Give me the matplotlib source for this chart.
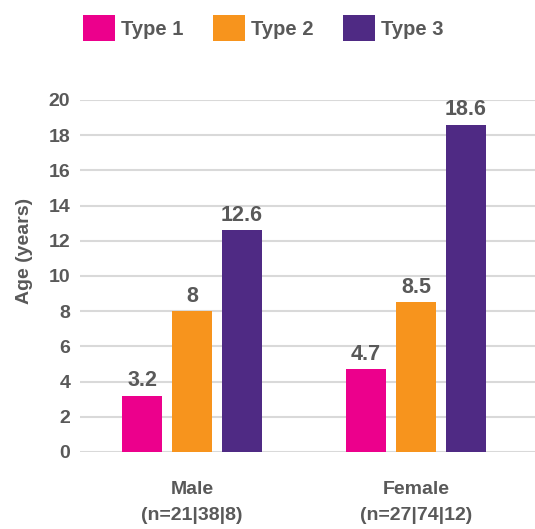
import matplotlib
matplotlib.use("Agg")
import matplotlib.pyplot as plt
import numpy as np
from matplotlib.patches import Patch

categories = ["Male\n(n=21|38|8)", "Female\n(n=27|74|12)"]
series_names = ["Type 1", "Type 2", "Type 3"]
type1 = [3.2, 4.7]
type2 = [8, 8.5]
type3 = [12.6, 18.6]
yticks = [0, 2, 4, 6, 8, 10, 12, 14, 16, 18, 20]

colors = ["#EC008C", "#F7941D", "#4F2A84"]
text_color = "#595959"
fam = ["Liberation Sans Narrow", "Liberation Sans", "DejaVu Sans"]
plt.rcParams['font.family'] = fam

fig = plt.figure(figsize=(5.35, 5.29), dpi=100)
ax = fig.add_axes([80/535, 1 - 452/529, 455/535, 352/529])

x = np.arange(len(categories))
offset = 0.223
width = 0.175
all_series = [type1, type2, type3]
for i, (vals, c) in enumerate(zip(all_series, colors)):
    bars = ax.bar(x + (i - 1) * offset, vals, width=width, color=c, zorder=3)
    for b, v in zip(bars, vals):
        lbl = f"{v:g}"
        ax.text(b.get_x() + b.get_width() / 2, v + 0.25, lbl, ha="center", va="bottom",
                fontsize=15.5, fontweight="bold", color=text_color)

ax.set_xlim(-0.5, 455 / 224 - 0.5)
ax.set_ylim(0, 20)
ax.set_yticks(yticks)
ax.set_yticklabels([str(t) for t in yticks], fontsize=14, fontweight="bold", color=text_color)
ax.set_xticks(x)
ax.set_xticklabels(categories, fontsize=14, fontweight="bold", color=text_color, linespacing=1.65)
ax.tick_params(axis="both", length=0)
ax.tick_params(axis="y", pad=7)
ax.tick_params(axis="x", pad=21)
ax.grid(axis="y", color="#D9D9D9", linewidth=1.5, zorder=0)
for s in ax.spines.values():
    s.set_visible(False)
ax.set_ylabel("Age (years)", fontsize=14, fontweight="bold", color=text_color)
ax.yaxis.set_label_coords(-0.103, 0.571)

handles = [Patch(facecolor=c, label=n) for c, n in zip(colors, series_names)]
leg = fig.legend(handles=handles, loc="center left", bbox_to_anchor=(65/535, 1 - 28/529), ncol=3,
                 frameon=False, handlelength=1.6, handleheight=1.6, handletextpad=0.3,
                 columnspacing=1.45, prop={"size": 14.5, "weight": "bold", "family": fam})
for t in leg.get_texts():
    t.set_color(text_color)

fig.savefig("out.png", dpi=100)
